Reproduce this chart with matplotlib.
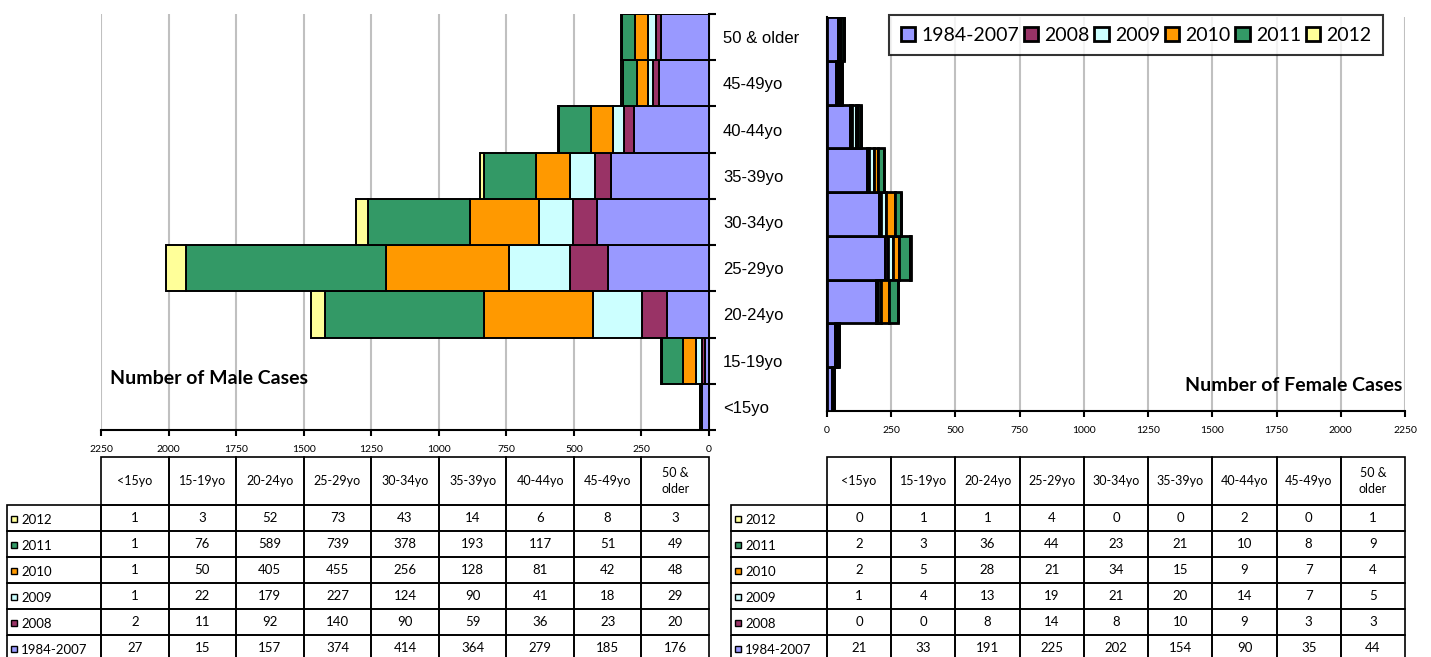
import numpy as np
import matplotlib.pyplot as plt
from matplotlib.patches import Rectangle

# ============================================================
# DATOS
# ============================================================
grupos = ['<15yo', '15-19yo', '20-24yo', '25-29yo', '30-34yo',
          '35-39yo', '40-44yo', '45-49yo', '50 & older']
cabeceras = ['<15yo', '15-19yo', '20-24yo', '25-29yo', '30-34yo',
             '35-39yo', '40-44yo', '45-49yo', '50 &\nolder']
periodos = ['1984-2007', '2008', '2009', '2010', '2011', '2012']
colores = ['#9999FF', '#993366', '#CCFFFF', '#FF9900', '#339966', '#FFFF99']

hombres_1984_2007 = [27, 15, 157, 374, 414, 364, 279, 185, 176]
hombres_2008 = [2, 11, 92, 140, 90, 59, 36, 23, 20]
hombres_2009 = [1, 22, 179, 227, 124, 90, 41, 18, 29]
hombres_2010 = [1, 50, 405, 455, 256, 128, 81, 42, 48]
hombres_2011 = [1, 76, 589, 739, 378, 193, 117, 51, 49]
hombres_2012 = [1, 3, 52, 73, 43, 14, 6, 8, 3]

mujeres_1984_2007 = [21, 33, 191, 225, 202, 154, 90, 35, 44]
mujeres_2008 = [0, 0, 8, 14, 8, 10, 9, 3, 3]
mujeres_2009 = [1, 4, 13, 19, 21, 20, 14, 7, 5]
mujeres_2010 = [2, 5, 28, 21, 34, 15, 9, 7, 4]
mujeres_2011 = [2, 3, 36, 44, 23, 21, 10, 8, 9]
mujeres_2012 = [0, 1, 1, 4, 0, 0, 2, 0, 1]

hombres = [hombres_1984_2007, hombres_2008, hombres_2009,
           hombres_2010, hombres_2011, hombres_2012]
mujeres = [mujeres_1984_2007, mujeres_2008, mujeres_2009,
           mujeres_2010, mujeres_2011, mujeres_2012]

plt.rcParams['font.family'] = ['Lato', 'DejaVu Sans']

W, H = 1431, 657
fig = plt.figure(figsize=(W / 100, H / 100), dpi=100)


def caja(x0, y0, x1, y1):
    return [x0 / W, 1 - y1 / H, (x1 - x0) / W, (y1 - y0) / H]


y = np.arange(len(grupos))
ticks_x = np.arange(0, 2251, 250)


def barras(ax, series, lw):
    izq = np.zeros(len(grupos))
    handles = []
    for serie, col, nom in zip(series, colores, periodos):
        h = ax.barh(y, serie, left=izq, height=1.0, color=col,
                    edgecolor='black', linewidth=lw, label=nom, zorder=3)
        izq += np.array(serie)
        handles.append(h)
    ax.set_ylim(-0.5, len(grupos) - 0.5)
    ax.set_xticks(ticks_x)
    ax.set_xticklabels([str(v) for v in ticks_x], fontsize=7.5)
    ax.xaxis.grid(True, color='#C0C0C0', linewidth=1.5, zorder=0)
    ax.set_axisbelow(True)
    ax.tick_params(axis='x', length=4, width=1.5, pad=7)
    for s in ax.spines.values():
        s.set_linewidth(1.5)
    return handles


# ============================================================
# HOMBRES
# ============================================================
ax_m = fig.add_axes(caja(101, 14, 709, 430))
barras(ax_m, hombres, 1.4)
ax_m.set_xlim(2250, 0)
ax_m.spines['top'].set_visible(False)
ax_m.spines['left'].set_visible(False)
ax_m.yaxis.tick_right()
ax_m.set_yticks(y)
ax_m.set_yticklabels(grupos, fontsize=12, family='Liberation Sans')
ax_m.set_yticks(np.arange(-0.5, len(grupos)), minor=True)
ax_m.tick_params(axis='y', which='major', length=0, pad=10)
ax_m.tick_params(axis='y', which='minor', length=5, width=1.5, right=True)
ax_m.text(0.015, 0.125, 'Number of Male Cases', transform=ax_m.transAxes,
          fontsize=14, fontweight='bold', va='center', ha='left')

# ============================================================
# MUJERES
# ============================================================
ax_f = fig.add_axes(caja(827, 17, 1405, 411))
handles = barras(ax_f, mujeres, 2.0)
ax_f.set_xlim(0, 2250)
ax_f.spines['top'].set_visible(False)
ax_f.spines['right'].set_visible(False)
ax_f.set_yticks([])
ax_f.text(0.995, 0.065, 'Number of Female Cases', transform=ax_f.transAxes,
          fontsize=14, fontweight='bold', va='center', ha='right')

leg = fig.legend(handles, periodos, loc='upper right',
                 bbox_to_anchor=(1383 / W, 1 - 15 / H), ncol=6, fontsize=14,
                 frameon=True, fancybox=False, handlelength=0.75,
                 handleheight=0.75, handletextpad=0.3, columnspacing=0.25,
                 borderpad=0.6, borderaxespad=0)
leg.get_frame().set_edgecolor('black')
leg.get_frame().set_linewidth(1.5)

# ============================================================
# TABLAS
# ============================================================
tab = fig.add_axes([0, 0, 1, 1])
tab.set_xlim(0, W)
tab.set_ylim(H, 0)
tab.axis('off')

fig.canvas.draw()


def tabla(ax, datos, x_lab):
    # bordes de columnas tomados de la escala del eje
    bordes = sorted(fig.transFigure.inverted().transform(
        ax.transData.transform(np.c_[ticks_x, np.zeros(len(ticks_x))]))[:, 0] * W)
    y_cab0, y_cab1 = 457, 505
    alto = 26
    for j in range(len(grupos)):
        x0, x1 = bordes[j], bordes[j + 1]
        tab.add_patch(Rectangle((x0, y_cab0), x1 - x0, y_cab1 - y_cab0,
                                fill=False, edgecolor='black', lw=1.2))
        tab.text((x0 + x1) / 2, (y_cab0 + y_cab1) / 2, cabeceras[j],
                 ha='center', va='center', fontsize=9, linespacing=1.4)
    filas = list(range(len(periodos)))[::-1]
    for i, k in enumerate(filas):
        y0 = y_cab1 + i * alto
        tab.add_patch(Rectangle((x_lab, y0), bordes[0] - x_lab, alto,
                                fill=False, edgecolor='black', lw=1.2))
        tab.add_patch(Rectangle((x_lab + 4, y0 + alto / 2 - 2), 6, 6,
                                facecolor=colores[k], edgecolor='black', lw=1.0))
        tab.text(x_lab + 14, y0 + alto / 2 + 2, periodos[k], ha='left',
                 va='center', fontsize=9.5)
        for j in range(len(grupos)):
            x0, x1 = bordes[j], bordes[j + 1]
            tab.add_patch(Rectangle((x0, y0), x1 - x0, alto,
                                    fill=False, edgecolor='black', lw=1.2))
            tab.text((x0 + x1) / 2, y0 + alto / 2, str(datos[k][j]),
                     ha='center', va='center', fontsize=9.5)


tabla(ax_m, hombres, 7)
tabla(ax_f, mujeres, 731)

plt.savefig('out.png', dpi=100)
